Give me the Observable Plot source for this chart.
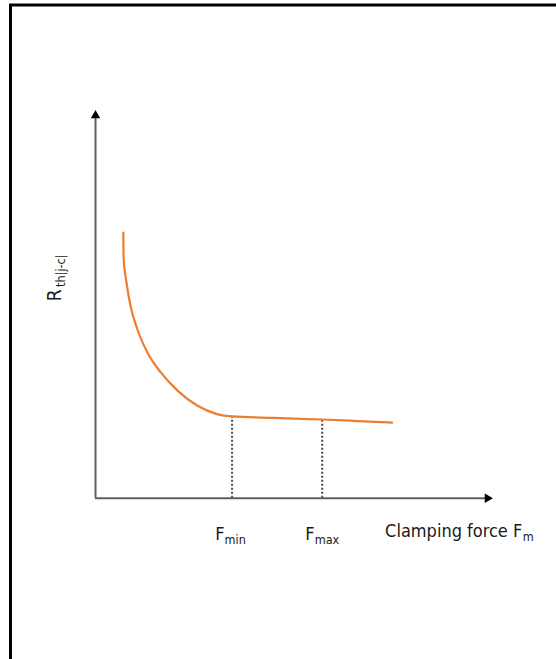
<!DOCTYPE html>
<html>
<head>
<meta charset="utf-8">
<script src="https://cdn.jsdelivr.net/npm/d3@7"></script>
<script src="https://cdn.jsdelivr.net/npm/@observablehq/plot@0.6"></script>
<style>
  html, body { margin: 0; padding: 0; background: #fff; overflow: hidden; }
  #chart svg { display: block; }
</style>
</head>
<body>
<div id="chart"></div>
<script>
// Clamping force (arbitrary units) and thermal resistance (arbitrary units)
const force      = [0.70, 0.71, 0.78, 0.88, 1.05, 1.30, 1.64, 2.06, 2.56, 3.06, 3.44, 4.50, 5.71, 6.60, 7.47];
const resistance = [6.85, 6.18, 5.57, 4.97, 4.37, 3.77, 3.25, 2.78, 2.39, 2.17, 2.11, 2.07, 2.03, 1.99, 1.95];

// Marked forces on the x axis
const markNames = ["min", "max"];
const markForce = [3.44, 5.71];
const markResistance = [2.11, 2.03];

// Axis labels
const xLabel = "Clamping force F";
const xLabelSub = "m";
const yLabel = "R";
const yLabelSub = "th|j-c|";

const curve = force.map((f, i) => ({f, r: resistance[i]}));
const marks = markNames.map((n, i) => ({name: n, f: markForce[i], r: markResistance[i]}));

const font = "'Liberation Sans Narrow', 'DejaVu Sans Condensed', 'Liberation Sans', sans-serif";
const ink = "#1a1a1a";

const chart = Plot.plot({
  width: 556,
  height: 659,
  marginLeft: 95,
  marginRight: 64,
  marginTop: 110,
  marginBottom: 161.3,
  x: {domain: [0, 10], axis: null},
  y: {domain: [0, 10], axis: null},
  style: {fontFamily: font, background: "#fff", overflow: "visible"},
  marks: [
    // outer border (only top and left edges fall inside the picture)
    Plot.frame({stroke: "#000", strokeWidth: 3, insetLeft: -85, insetTop: -105.5, insetRight: -120, insetBottom: -220}),
    // axes
    Plot.ruleX([0], {y1: 0, y2: 9.85, stroke: "#5f5f5f", strokeWidth: 2}),
    Plot.ruleY([0], {x1: 0, x2: 9.85, stroke: "#5f5f5f", strokeWidth: 2}),
    Plot.dot([{x: 0, y: 10}], {x: "x", y: "y", symbol: "triangle", r: 3.5, fill: "#000", stroke: null, dy: 5}),
    Plot.dot([{x: 10, y: 0}], {x: "x", y: "y", symbol: "triangle", r: 3.5, fill: "#000", stroke: null, rotate: 90, dx: -5}),
    // dotted drop lines
    Plot.ruleX(marks, {x: "f", y1: 0, y2: "r", stroke: "#4a4a4a", strokeWidth: 2, strokeDasharray: "2,2"}),
    // curve
    Plot.line(curve, {x: "f", y: "r", curve: "monotone-x", stroke: "#ED7D31", strokeWidth: 2.2}),
    // x tick labels F_min, F_max
    Plot.text(marks, {x: "f", y: 0, text: () => "F", textAnchor: "end", lineAnchor: "bottom", dy: 42, dx: -7.5, fontSize: 18, fill: ink}),
    Plot.text(marks, {x: "f", y: 0, text: "name", textAnchor: "start", lineAnchor: "bottom", dy: 45.5, dx: -7.5, fontSize: 12.5, fill: ink}),
    // x axis label
    Plot.text([xLabel], {x: 10.75, y: 0, textAnchor: "end", lineAnchor: "bottom", dy: 39, fontSize: 18, fill: ink}),
    Plot.text([xLabelSub], {x: 10.75, y: 0, textAnchor: "start", lineAnchor: "bottom", dy: 42.5, dx: 0.5, fontSize: 12.5, fill: ink}),
    // y axis label (rotated)
    Plot.text([yLabel], {frameAnchor: "left", y: 5.08, rotate: -90, textAnchor: "start", lineAnchor: "bottom", dx: -34.5, fontSize: 19, fill: ink}),
    Plot.text([yLabelSub], {frameAnchor: "left", y: 5.45, rotate: -90, textAnchor: "start", lineAnchor: "bottom", dx: -30.5, fontSize: 12.5, fill: ink})
  ]
});

document.getElementById("chart").append(chart);
</script>
</body>
</html>
